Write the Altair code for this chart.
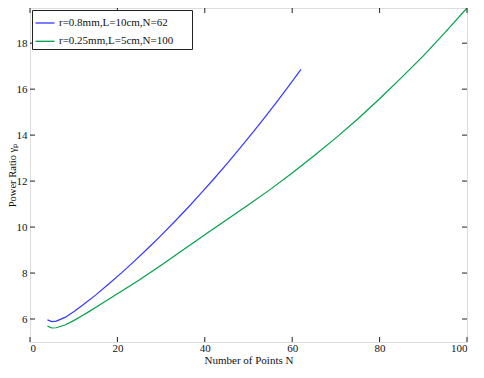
import altair as alt
import pandas as pd

# Series 1: r=0.8mm, L=10cm, N=62
n_blue = [4, 5, 6, 8, 10, 12, 15, 18, 21, 24, 27, 30, 33, 36, 39, 42, 45, 48, 51, 54, 57, 60, 62]
v_blue = [5.96, 5.89, 5.91, 6.07, 6.32, 6.60, 7.04, 7.52, 8.02, 8.54, 9.08, 9.64, 10.22, 10.82,
          11.44, 12.08, 12.74, 13.42, 14.12, 14.84, 15.58, 16.34, 16.86]

# Series 2: r=0.25mm, L=5cm, N=100
n_green = [4, 5, 6, 8, 10, 12, 13.4, 15, 18, 21, 25, 30, 35, 40, 45, 50, 55, 60, 65, 70, 75, 80,
           85, 90, 95, 100]
v_green = [5.69, 5.61, 5.62, 5.74, 5.93, 6.15, 6.31, 6.50, 6.86, 7.22, 7.70, 8.34, 9.00, 9.67,
           10.32, 10.97, 11.64, 12.35, 13.10, 13.88, 14.70, 15.58, 16.50, 17.45, 18.47, 19.53]

series_names = ["r=0.8mm,L=10cm,N=62", "r=0.25mm,L=5cm,N=100"]
series_colors = ["#3636ff", "#00a048"]

x_ticks = [0, 20, 40, 60, 80, 100]
y_ticks = [6, 8, 10, 12, 14, 16, 18]

W, H = 437, 334
FONT = "Liberation Serif"
FS = 11
INK = "#111"

df = pd.concat([
    pd.DataFrame({"series": series_names[0], "N": n_blue, "ratio": v_blue}),
    pd.DataFrame({"series": series_names[1], "N": n_green, "ratio": v_green}),
])

xs = alt.Scale(domain=[0, 100], nice=False, zero=False)
ys = alt.Scale(domain=[5, 19.53], nice=False, zero=False)

x_axis = alt.Axis(values=x_ticks, tickSize=0, domain=False, grid=False,
                  labelFont=FONT, labelFontSize=FS, labelColor=INK,
                  labelBaseline="alphabetic", labelPadding=9,
                  titleFont=FONT, titleFontSize=FS, titleFontWeight="normal",
                  titleColor=INK, titleBaseline="alphabetic", titleY=21.5, format="d")
y_axis = alt.Axis(values=y_ticks, tickSize=0, domain=False, grid=False,
                  labelFont=FONT, labelFontSize=FS, labelColor=INK, labelPadding=3,
                  titleFont=FONT, titleFontSize=10.5, titleFontWeight="normal",
                  titleColor=INK, titleBaseline="alphabetic", titleX=-15,
                  titleY=H / 2, format="d")
X_TITLE = "Number of Points N"
Y_TITLE = "Power Ratio γₚ"

lines = alt.Chart(df).mark_line(strokeWidth=1.2).encode(
    x=alt.X("N:Q", scale=xs, title=X_TITLE, axis=x_axis),
    y=alt.Y("ratio:Q", scale=ys, title=Y_TITLE, axis=y_axis),
    color=alt.Color("series:N",
                    scale=alt.Scale(domain=series_names, range=series_colors),
                    legend=alt.Legend(title=None, orient="top-left", offset=2,
                                      strokeColor="#222", fillColor="white",
                                      padding=2.5, symbolType="stroke", symbolSize=361,
                                      symbolStrokeWidth=1.3, labelFont=FONT,
                                      labelFontSize=FS, labelColor=INK,
                                      labelOffset=3.5, rowPadding=2.3,
                                      labelExpr="datum.label + '\u2800\u2800'")),
    order=alt.Order("N:Q"),
)

xt = pd.DataFrame({"t": x_ticks})
yt = pd.DataFrame({"t": y_ticks})
tick_color = "#222"

bottom_ticks = alt.Chart(xt).mark_rule(color=tick_color).encode(
    x=alt.X("t:Q", scale=xs, title=X_TITLE, axis=x_axis), y=alt.value(H), y2=alt.value(H - 5))
top_ticks = alt.Chart(xt).mark_rule(color=tick_color).encode(
    x=alt.X("t:Q", scale=xs, title=X_TITLE, axis=x_axis), y=alt.value(0), y2=alt.value(5))
left_ticks = alt.Chart(yt).mark_rule(color=tick_color).encode(
    y=alt.Y("t:Q", scale=ys, title=Y_TITLE, axis=y_axis), x=alt.value(0), x2=alt.value(5))
right_ticks = alt.Chart(yt).mark_rule(color=tick_color).encode(
    y=alt.Y("t:Q", scale=ys, title=Y_TITLE, axis=y_axis), x=alt.value(W), x2=alt.value(W - 5))

chart = alt.layer(lines, bottom_ticks, top_ticks, left_ticks, right_ticks).properties(
    width=W, height=H,
    autosize=alt.AutoSizeParams(type="none"),
    padding={"left": 22, "top": 0, "right": 9, "bottom": 24},
).configure_view(stroke="#222", strokeWidth=1).configure(background="white")

chart.save("out.html", embed_options={"renderer": "svg", "actions": False})
